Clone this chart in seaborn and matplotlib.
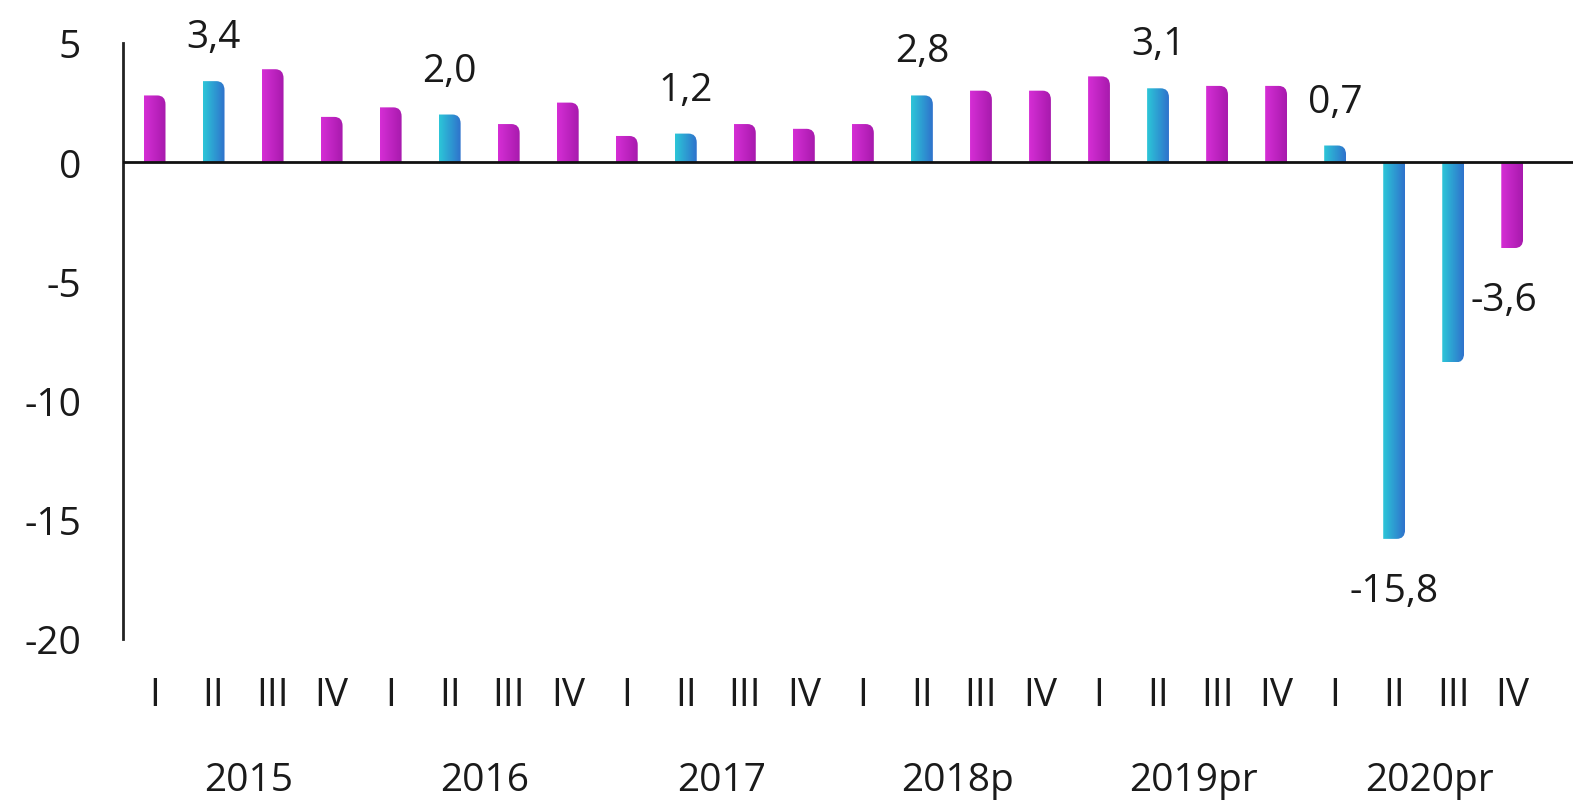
import numpy as np
import pandas as pd
import matplotlib
matplotlib.use("Agg")
import matplotlib.pyplot as plt
import seaborn as sns
from matplotlib.path import Path
from matplotlib.patches import PathPatch
from matplotlib.colors import LinearSegmentedColormap
import matplotlib.transforms as mtransforms

years = ["2015", "2016", "2017", "2018p", "2019pr", "2020pr"]
quarters = ["I", "II", "III", "IV"]
values = [2.8, 3.4, 3.9, 1.9,
          2.3, 2.0, 1.6, 2.5,
          1.1, 1.2, 1.6, 1.4,
          1.6, 2.8, 3.0, 3.0,
          3.6, 3.1, 3.2, 3.2,
          0.7, -15.8, -8.4, -3.6]
highlight = [0, 1, 0, 0,
             0, 1, 0, 0,
             0, 1, 0, 0,
             0, 1, 0, 0,
             0, 1, 0, 0,
             1, 1, 1, 0]
labels_idx = [1, 5, 9, 13, 17, 20, 21, 23]
yticks = [5, 0, -5, -10, -15, -20]

sns.set_theme(style="white")
plt.rcParams['font.family'] = ['Open Sans', 'DejaVu Sans']

n = len(values)
df = pd.DataFrame({
    "pos": [str(i) for i in range(n)],
    "val": values,
    "grp": ["b" if h else "m" for h in highlight],
})

fig = plt.figure(figsize=(15.73, 8.12), dpi=100)
ax = fig.add_axes([0.078, 1 - 640 / 812, 1 - 0.078, (640 - 44) / 812])

sns.barplot(data=df, x="pos", y="val", hue="grp", order=[str(i) for i in range(n)],
            palette={"m": "#c020c0", "b": "#30a0d0"}, dodge=False, width=0.37,
            legend=False, ax=ax, saturation=1)

cm_m = LinearSegmentedColormap.from_list("m", ["#d52ed5", "#a81aad"])
cm_b = LinearSegmentedColormap.from_list("b", ["#2cc6d8", "#2f72cc"])
grad = np.linspace(0, 1, 64).reshape(1, -1)

rx, ry = 0.14, 0.38
for p in list(ax.patches):
    x0, y0 = p.get_x(), p.get_y()
    w, h = p.get_width(), p.get_height()
    x1 = x0 + w
    base = y0
    end = y0 + h
    fc = p.get_facecolor()
    is_blue = fc[2] > 0.6 and fc[0] < 0.5
    sgn = 1 if end >= base else -1
    r_y = min(ry, abs(end - base) * 0.9)
    verts = [(x0, base), (x0, end), (x1 - rx, end),
             (x1, end), (x1, end - sgn * r_y),
             (x1, base), (x0, base)]
    codes = [Path.MOVETO, Path.LINETO, Path.LINETO,
             Path.CURVE3, Path.CURVE3,
             Path.LINETO, Path.CLOSEPOLY]
    clip = PathPatch(Path(verts, codes), transform=ax.transData, facecolor='none', edgecolor='none')
    ax.add_patch(clip)
    lo, hi = sorted([base, end])
    im = ax.imshow(grad, extent=[x0, x1, lo, hi], aspect='auto',
                   cmap=cm_b if is_blue else cm_m, zorder=2, interpolation='bilinear')
    im.set_clip_path(clip)
    p.set_visible(False)

ax.set_xlim(-0.54, n - 1 + 1.03)
ax.set_ylim(-20, 5)
ax.axhline(0, color='#111111', lw=2, zorder=3)

for s in ["top", "right", "bottom"]:
    ax.spines[s].set_visible(False)
ax.spines["left"].set_color('#222222')
ax.spines["left"].set_linewidth(2)

ax.set_yticks(yticks)
ax.set_yticklabels([str(t) for t in yticks])
ax.set_xticks(range(n))
ax.set_xticklabels(quarters * len(years))
ax.tick_params(axis='y', length=0, pad=30, labelsize=28, labelcolor='#1a1a1a')
ax.tick_params(axis='x', length=0, pad=27, labelsize=28, labelcolor='#1a1a1a')
ax.set_xlabel("")
ax.set_ylabel("")

trans = mtransforms.blended_transform_factory(ax.transData, ax.transAxes)
for k, y in enumerate(years):
    ax.text(k * 4 + 1.6, -0.236, y, transform=trans, ha='center', va='center',
            fontsize=28, color='#1a1a1a')

for i in labels_idx:
    v = values[i]
    off = 44 if v >= 0 else -52
    dx = -8 if i == 23 else 0
    ax.annotate(f"{v:.1f}".replace(".", ","), xy=(i, v), xytext=(dx, off),
                textcoords='offset pixels', ha='center', va='center',
                fontsize=28, color='#1a1a1a')

fig.savefig("out.png", dpi=100)
